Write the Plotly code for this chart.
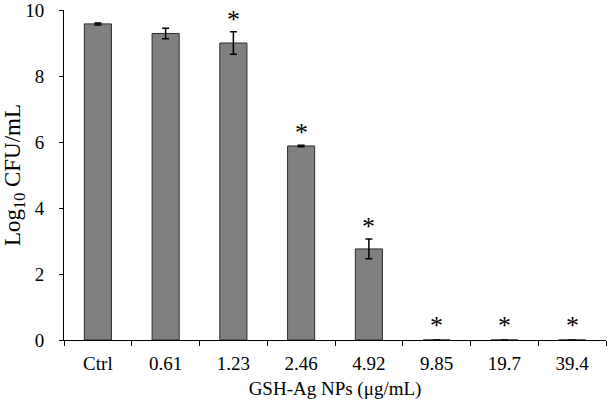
import plotly.graph_objects as go

categories = ["Ctrl", "0.61", "1.23", "2.46", "4.92", "9.85", "19.7", "39.4"]
values = [9.58, 9.29, 9.00, 5.88, 2.76, 0, 0, 0]
errors = [0.03, 0.16, 0.34, 0.02, 0.30, 0, 0, 0]
significant = [False, False, True, True, True, True, True, True]
y_ticks = [0, 2, 4, 6, 8, 10]

FONT = "Liberation Serif, Times New Roman, serif"

fig = go.Figure()
fig.add_trace(go.Bar(
    x=categories, y=values,
    marker=dict(color="#808080", line=dict(color="#2b2b2b", width=1)),
    error_y=dict(type="data", array=errors, visible=True, color="black",
                 thickness=1.5, width=3.5),
    width=0.4,
    showlegend=False,
))

for i, (v, e, s) in enumerate(zip(values, errors, significant)):
    if s:
        fig.add_annotation(x=i, y=v + e, xref="x", yref="y", text="*", showarrow=False,
                           yanchor="bottom", yshift=-4 if v > 0 else -2,
                           font=dict(family=FONT, size=26, color="black"))

fig.update_layout(
    width=610, height=404,
    margin=dict(l=64, r=4, t=10, b=64, autoexpand=False),
    plot_bgcolor="white", paper_bgcolor="white",
    font=dict(family=FONT, color="black", size=19),
)
fig.update_xaxes(
    type="category", range=[-0.5, len(categories) - 0.5], automargin=False,
    showline=True, linecolor="black", linewidth=1, tickangle=0,
    ticks="outside", tickson="boundaries", ticklen=5, tickcolor="black",
    tickfont=dict(size=19), showgrid=False, ticklabelstandoff=6,
    title=dict(text="GSH-Ag NPs (μg/mL)", font=dict(size=19), standoff=8),
)
fig.update_yaxes(
    range=[0, 10.001], tickvals=y_ticks, automargin=False, ticklabeloverflow="allow",
    showline=True, linecolor="black", linewidth=1,
    ticks="outside", ticklen=4, tickcolor="black", showgrid=False, zeroline=False,
    tickfont=dict(size=19), ticklabelstandoff=11,
    title=dict(text="Log<sub>10</sub> CFU/mL", font=dict(size=23), standoff=20),
)

fig.write_html("out.html", config={"displayModeBar": False},
               post_script="document.body.style.margin='0';document.body.style.padding='0';")
